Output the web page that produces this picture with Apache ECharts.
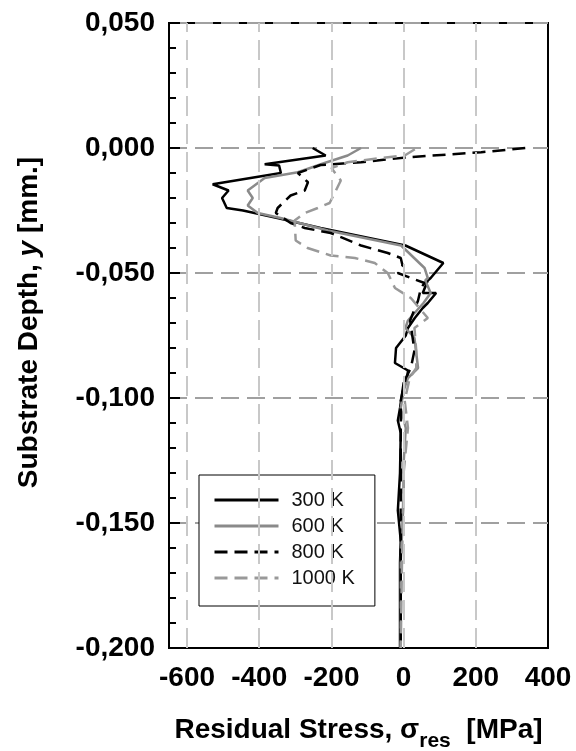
<!DOCTYPE html>
<html>
<head>
<meta charset="utf-8">
<script src="https://cdn.jsdelivr.net/npm/echarts@6/dist/echarts.min.js"></script>
<style>html,body{margin:0;padding:0;background:#fff}#c{width:576px;height:751px}</style>
</head>
<body>
<div id="c"></div>
<script>
// ---- data (stress in MPa, depth in mm) ----
const stress300 = [-252,-216,-385,-345,-340,-529,-485,-503,-490,-445,-350,-230,5,110,75,67,53,90,67,53,31,12,6,-21,-24,12,10,0,-10,-16,-8,-10,-16,-8,-10,-10,-10];
const depth300  = [0,-0.003,-0.0065,-0.007,-0.010,-0.0145,-0.017,-0.020,-0.024,-0.025,-0.028,-0.032,-0.039,-0.046,-0.052,-0.053,-0.058,-0.058,-0.062,-0.064,-0.068,-0.072,-0.075,-0.080,-0.086,-0.089,-0.092,-0.094,-0.104,-0.109,-0.114,-0.130,-0.145,-0.157,-0.166,-0.180,-0.200];

const stress600 = [-118,-155,-219,-293,-385,-432,-418,-432,-404,-341,-210,-7,58,67,60,75,55,12,5,30,35,40,12,0,-8,6,0,0,-8,-8];
const depth600  = [0,-0.003,-0.006,-0.0097,-0.012,-0.017,-0.020,-0.023,-0.026,-0.028,-0.033,-0.039,-0.048,-0.052,-0.053,-0.058,-0.062,-0.069,-0.072,-0.076,-0.082,-0.088,-0.092,-0.097,-0.104,-0.112,-0.126,-0.140,-0.166,-0.200];

const stress800 = [337,215,12,-118,-230,-293,-265,-274,-313,-349,-354,-313,-274,-202,-118,-44,-8,-3,-16,20,58,48,40,18,30,20,6,-8,-8,-8,-8];
const depth800  = [0,-0.0017,-0.0037,-0.0057,-0.0068,-0.010,-0.0137,-0.017,-0.019,-0.024,-0.026,-0.030,-0.032,-0.034,-0.039,-0.042,-0.044,-0.047,-0.050,-0.052,-0.054,-0.056,-0.061,-0.069,-0.081,-0.088,-0.092,-0.101,-0.130,-0.170,-0.200];

const stress1000 = [31,3,-63,-155,-200,-174,-191,-205,-238,-274,-302,-299,-266,-202,-135,-80,-44,-24,20,67,30,35,35,17,3,12,0,-5,-8];
const depth1000  = [-0.0005,-0.003,-0.004,-0.0057,-0.008,-0.013,-0.018,-0.022,-0.024,-0.026,-0.029,-0.037,-0.040,-0.043,-0.044,-0.046,-0.050,-0.056,-0.060,-0.068,-0.072,-0.081,-0.088,-0.092,-0.101,-0.112,-0.130,-0.170,-0.200];

const seriesNames = ['300 K','600 K','800 K','1000 K'];
const xTickLabels = [-600,-400,-200,0,200,400];
const xTicks = [-600,-400,-200,0,200];
const xGrid = [-600,-400,-200,0,200];

const FONT = "'Liberation Sans', Arial, sans-serif";
const zip = (xs, ys) => xs.map((x, i) => [x, ys[i]]);

const chart = echarts.init(document.getElementById('c'), null, {renderer: 'canvas'});

function lineSeries(name, xs, ys, color, dash) {
  return {
    name: name, type: 'line', data: zip(xs, ys), showSymbol: false, symbol: 'none',
    z: 3,
    lineStyle: {color: color, width: 2.5, type: dash ? [13, 7] : 'solid'},
    itemStyle: {color: color}
  };
}

chart.setOption({
  animation: false,
  backgroundColor: '#fff',
  grid: {left: 169, right: 28, top: 23, bottom: 103, show: true, borderColor: '#000', borderWidth: 2,
    containLabel: false, outerBoundsMode: 'none'},
  legend: {
    data: seriesNames, orient: 'vertical', left: 199, top: 475,
    itemWidth: 64, itemHeight: 14, itemGap: 6,
    borderColor: '#000', borderWidth: 1, backgroundColor: '#fff',
    padding: [15, 20, 18, 14],
    itemStyle: {opacity: 0},
    lineStyle: {width: 3},
    textStyle: {fontSize: 20, color: '#111', fontFamily: FONT, lineHeight: 20, padding: [0, 0, 0, 8]}
  },
  xAxis: {
    type: 'value', min: -650, max: 400,
    axisLine: {show: true, onZero: false, lineStyle: {color: '#000', width: 2}},
    axisTick: {show: true, inside: true, length: 8, customValues: xTicks, lineStyle: {color: '#000', width: 2}},
    axisLabel: {customValues: xTickLabels, fontSize: 28, fontWeight: 'bold', color: '#000', fontFamily: FONT, margin: 16,
      formatter: v => String(v)},
    splitLine: {show: false},
    name: '{t|Residual Stress, σ}{s|res}{t|  [MPa]}',
    nameLocation: 'middle', nameGap: 68,
    nameTextStyle: {rich: {
      t: {fontSize: 28, fontWeight: 'bold', color: '#000', fontFamily: FONT, verticalAlign: 'top'},
      s: {fontSize: 21, fontWeight: 'bold', color: '#000', fontFamily: FONT, verticalAlign: 'top', padding: [15, 0, 0, 0]}
    }}
  },
  yAxis: {
    type: 'value', min: -0.2, max: 0.05, interval: 0.05,
    axisLine: {show: true, onZero: false, lineStyle: {color: '#000', width: 2}},
    axisTick: {show: true, inside: true, length: 11, lineStyle: {color: '#000', width: 2}},
    minorTick: {show: true, splitNumber: 5, length: 7, lineStyle: {color: '#000', width: 2}},
    axisLabel: {fontSize: 28, fontWeight: 'bold', color: '#000', fontFamily: FONT, margin: 14,
      formatter: v => v.toFixed(3).replace('.', ',')},
    splitLine: {show: true, lineStyle: {color: '#a0a0a0', width: 2, type: [18, 8]}},
    name: '{t|Substrate Depth, }{i|y}{t| [mm.]}',
    nameLocation: 'middle', nameRotate: 90, nameGap: 126,
    nameTextStyle: {padding: [0, 0, 0, 26], rich: {
      t: {fontSize: 28, fontWeight: 'bold', color: '#000', fontFamily: FONT},
      i: {fontSize: 28, fontWeight: 'bold', fontStyle: 'italic', color: '#000', fontFamily: FONT}
    }}
  },
  series: [
    {
      name: 'grid', type: 'line', data: [], z: 1, silent: true,
      markLine: {
        silent: true, symbol: ['none', 'none'], animation: false,
        label: {show: false},
        lineStyle: {color: '#c8c8c8', width: 2, type: [20, 8]},
        data: xGrid.map(v => ({xAxis: v}))
      }
    },
    lineSeries(seriesNames[0], stress300, depth300, '#000', false),
    lineSeries(seriesNames[1], stress600, depth600, '#8a8a8a', false),
    lineSeries(seriesNames[2], stress800, depth800, '#000', true),
    lineSeries(seriesNames[3], stress1000, depth1000, '#999', true)
  ]
});
</script>
</body>
</html>
